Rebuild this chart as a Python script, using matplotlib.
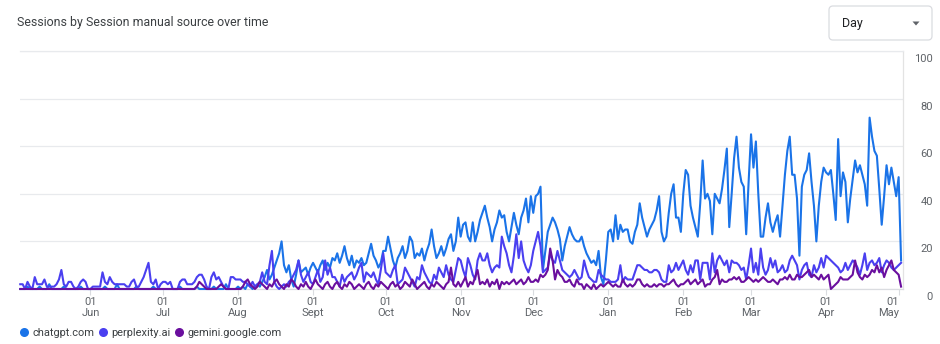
"""
Sessions by Session manual source over time (daily), GA-style line chart
"""
import pandas as pd
import matplotlib
matplotlib.use("Agg")
import matplotlib.pyplot as plt
import matplotlib.dates as mdates
from matplotlib.lines import Line2D
from matplotlib.patches import FancyBboxPatch, Polygon
from matplotlib.transforms import ScaledTranslation

plt.rcParams["font.family"] = ["Roboto", "DejaVu Sans"]

# daily sessions (first day 2024-05-03)
start_day = "2024-05-03"

chatgpt = [
    0,
    0, 0, 1, 0, 0, 0, 0, 1, 0, 0, 0, 2, 0, 0, 0, 0, 0, 1, 0, 0, 0, 0, 0, 0, 1, 0, 0, 0, 0, 0,
    0, 0, 0, 0, 1, 0, 0, 0, 0, 2, 0, 0, 0, 0, 0, 0, 0, 1, 0, 0, 0, 0, 0, 0, 1, 0, 0, 0, 0, 0,
    0, 0, 0, 0, 0, 1, 0, 0, 0, 0, 0, 0, 1, 0, 0, 0, 0, 0, 0, 1, 0, 0, 0, 0, 2, 0, 0, 0, 0, 1,
    0, 1, 0, 2, 1, 0, 1, 2, 1, 3, 5, 8, 4, 6, 9, 12, 15, 20, 10, 7, 10, 4, 1, 6, 12, 7, 8, 9, 6, 9, 11,
    9, 7, 10, 12, 8, 11, 9, 13, 12, 15, 11, 14, 18, 13, 10, 14, 9, 12, 11, 13, 10, 11, 15, 19, 14, 12, 9, 11, 16,
    16, 22, 17, 12, 9, 13, 15, 18, 13, 16, 22, 20, 13, 15, 14, 17, 12, 16, 19, 25, 18, 13, 15, 18, 14, 17, 21, 23, 16, 20, 30,
    22, 27, 28, 22, 20, 28, 20, 24, 29, 32, 35, 30, 26, 20, 25, 28, 33, 30, 31, 24, 20, 26, 32, 27, 23, 30, 33, 38, 28,
    39, 32, 39, 40, 43, 8, 16, 24, 27, 30, 28, 25, 21, 12, 18, 22, 26, 23, 21, 20, 20, 22, 18, 15, 13, 11, 12, 10, 16, 5,
    2, 12, 24, 25, 20, 31, 21, 27, 24, 25, 25, 20, 19, 24, 27, 36, 30, 26, 22, 25, 27, 29, 33, 39, 24, 20, 22, 32, 40, 44, 30,
    30, 24, 40, 50, 48, 35, 30, 26, 22, 36, 54, 38, 40, 37, 23, 40, 38, 36, 42, 50, 59, 26, 40, 55, 64, 51, 45,
    43, 23, 45, 65, 51, 62, 40, 22, 22, 30, 36, 28, 24, 28, 31, 22, 35, 48, 58, 64, 48, 48, 38, 14, 43, 48, 50, 57, 45, 35, 20,
    35, 45, 51, 49, 48, 50, 40, 29, 63, 39, 49, 45, 28, 38, 46, 54, 49, 52, 48, 44, 35, 72, 64, 58, 56, 42, 27, 39, 52,
    44, 51, 45, 39, 47, 12,
]

perplexity = [
    2,
    2, 0, 3, 1, 0, 5, 2, 2, 2, 4, 1, 1, 1, 1, 2, 4, 8, 2, 1, 3, 3, 1, 0, 1, 3, 4, 3, 0, 0, 1,
    1, 1, 1, 7, 3, 2, 5, 3, 2, 2, 2, 2, 2, 1, 1, 3, 4, 1, 1, 3, 5, 8, 11, 3, 2, 4, 0, 2, 3, 3,
    2, 3, 0, 0, 0, 3, 4, 4, 2, 2, 2, 3, 5, 6, 6, 4, 1, 0, 5, 7, 4, 5, 3, 1, 0, 0, 5, 5, 4, 4,
    4, 3, 3, 2, 1, 3, 1, 2, 3, 7, 3, 2, 10, 16, 3, 1, 0, 1, 2, 1, 3, 4, 6, 8, 12, 6, 3, 5, 7, 3, 2,
    5, 8, 3, 5, 12, 6, 9, 5, 5, 3, 1, 6, 3, 5, 6, 7, 4, 6, 9, 11, 3, 7, 6, 5, 7, 4, 2, 8, 15,
    7, 6, 5, 8, 10, 2, 3, 4, 9, 7, 5, 3, 1, 5, 4, 10, 7, 5, 3, 2, 6, 4, 9, 7, 5, 10, 6, 4, 3, 8, 13,
    12, 8, 5, 13, 10, 6, 4, 12, 15, 12, 12, 15, 10, 7, 9, 10, 9, 22, 18, 15, 10, 7, 14, 23, 13, 20, 12, 9, 7,
    10, 16, 20, 24, 18, 7, 8, 9, 15, 12, 11, 16, 12, 8, 7, 6, 5, 6, 8, 6, 4, 5, 12, 8, 5, 4, 3, 3, 8, 6,
    5, 4, 4, 3, 3, 3, 4, 10, 3, 5, 4, 4, 4, 7, 10, 10, 9, 8, 8, 7, 7, 8, 8, 7, 4, 3, 3, 10, 7, 8, 11,
    8, 10, 12, 8, 6, 10, 7, 12, 12, 4, 11, 11, 11, 4, 15, 7, 12, 14, 12, 10, 12, 7, 12, 11, 11, 10, 8,
    9, 4, 10, 17, 7, 11, 6, 17, 9, 6, 8, 13, 9, 12, 7, 8, 10, 7, 8, 12, 14, 12, 10, 4, 8, 10, 11, 6, 5, 10, 7,
    9, 13, 9, 14, 13, 12, 11, 10, 9, 7, 8, 11, 8, 10, 12, 11, 9, 6, 10, 15, 8, 11, 12, 10, 11, 13, 7, 10, 12,
    11, 9, 8, 9, 10, 11,
]

gemini = [
    0,
    0, 0, 0, 0, 0, 0, 0, 0, 0, 0, 0, 0, 0, 0, 0, 0, 0, 0, 0, 0, 0, 0, 0, 0, 0, 0, 0, 0, 0, 0,
    0, 0, 0, 0, 0, 0, 0, 0, 0, 0, 0, 0, 0, 0, 0, 0, 0, 0, 0, 0, 0, 0, 0, 0, 0, 0, 0, 0, 0, 0,
    0, 0, 0, 0, 0, 0, 0, 0, 0, 0, 0, 0, 1, 3, 2, 1, 0, 0, 0, 0, 0, 1, 2, 1, 0, 0, 0, 0, 0, 0,
    0, 1, 3, 4, 2, 1, 0, 1, 3, 2, 1, 0, 2, 1, 3, 4, 2, 1, 0, 2, 1, 4, 3, 1, 0, 2, 1, 3, 1, 0, 2,
    4, 2, 1, 0, 2, 3, 1, 0, 2, 3, 1, 0, 2, 1, 3, 2, 0, 1, 2, 1, 0, 2, 3, 1, 0, 2, 1, 3, 2,
    1, 0, 2, 3, 1, 2, 0, 1, 3, 2, 1, 4, 2, 0, 1, 2, 3, 1, 0, 2, 1, 3, 2, 1, 0, 2, 3, 9, 2, 1, 3,
    1, 3, 5, 1, 3, 2, 5, 8, 2, 3, 2, 4, 1, 3, 2, 4, 0, 3, 2, 3, 2, 3, 4, 2, 3, 4, 2, 3, 5,
    3, 3, 4, 3, 6, 5, 6, 8, 17, 12, 4, 8, 6, 5, 3, 3, 4, 2, 1, 4, 2, 2, 0, 2, 1, 0, 2, 0, 1, 2,
    1, 2, 3, 2, 1, 2, 1, 1, 4, 2, 1, 2, 1, 2, 4, 4, 2, 1, 2, 1, 1, 2, 1, 2, 2, 1, 2, 2, 3, 4, 2,
    1, 2, 2, 3, 4, 2, 3, 4, 2, 3, 4, 1, 2, 2, 4, 5, 8, 2, 4, 3, 3, 4, 4, 5, 4, 5, 3,
    3, 4, 5, 4, 3, 4, 3, 4, 5, 4, 3, 3, 4, 3, 2, 4, 4, 5, 4, 6, 4, 4, 6, 5, 5, 6, 7, 8, 5, 6, 5,
    4, 6, 4, 5, 6, 0, 1, 2, 3, 5, 4, 4, 4, 5, 6, 12, 7, 5, 4, 6, 5, 6, 8, 7, 10, 7, 9, 5, 8,
    10, 12, 8, 7, 6, 1,
]

series_names = ["chatgpt.com", "perplexity.ai", "gemini.google.com"]
series_colors = ["#1a73e8", "#4a3ff0", "#6a0f9e"]

month_labels = ["Jun", "Jul", "Aug", "Sept", "Oct", "Nov", "Dec", "Jan", "Feb", "Mar", "Apr", "May"]
y_ticks = [0, 20, 40, 60, 80, 100]

dates = pd.date_range(start_day, periods=len(chatgpt), freq="D")
month_starts = pd.date_range("2024-06-01", "2025-05-01", freq="MS")

W, H = 940, 344
fig = plt.figure(figsize=(W / 100, H / 100), dpi=100)
ax = fig.add_axes([20 / W, 1 - 289 / H, 883 / W, 238 / H])

for vals, name, col in zip([chatgpt, perplexity, gemini], series_names, series_colors):
    ax.plot(dates, vals, color=col, lw=1.5, label=name, clip_on=False,
            solid_joinstyle="round", zorder=3)

x0 = mdates.date2num(dates[0]) - 0.1
x1 = mdates.date2num(dates[-1]) + 0.8
ax.set_xlim(x0, x1)
ax.set_ylim(0, 100)

# grid + frame
ax.set_yticks(y_ticks)
ax.grid(axis="y", color="#e8eaed", lw=0.9)
ax.set_axisbelow(True)
ax.spines["left"].set_visible(False)
ax.spines["top"].set_color("#e8eaed")
ax.spines["bottom"].set_color("#dadce0")
ax.spines["right"].set_color("#e3e3e3")
for s in ax.spines.values():
    s.set_linewidth(0.9)

# x axis: month starts
ax.set_xticks(month_starts)
ax.set_xticklabels(["01\n" + m for m in month_labels])
ax.tick_params(axis="x", length=4, width=0.8, color="#dadce0", pad=2,
               labelsize=8, labelcolor="#5f6368")
for lab in ax.get_xticklabels():
    lab.set_linespacing(1.05)
ax.get_xticklabels()[-1].set_ha("right")

# y axis on the right, labels under the grid lines
ax.yaxis.tick_right()
ax.tick_params(axis="y", length=0, pad=21.6, labelsize=8, labelcolor="#5f6368")
shift = ScaledTranslation(0, -3 / 100, fig.dpi_scale_trans)
for lab in ax.get_yticklabels():
    lab.set_ha("right")
    lab.set_va("top")
    lab.set_transform(lab.get_transform() + shift)

# title
fig.text(17 / W, 1 - 22.5 / H, "Sessions by Session manual source over time",
         fontsize=8.9, color="#3c4043", va="center", ha="left")

# "Day" selector box
box = FancyBboxPatch((8.29, (H - 40) / 100), 1.03, 0.34,
                     boxstyle="round,pad=0,rounding_size=0.04",
                     transform=fig.dpi_scale_trans, fc="white", ec="#dadce0", lw=0.9)
fig.add_artist(box)
fig.text(842 / W, 1 - 23 / H, "Day", fontsize=9, color="#202124", va="center", ha="left")
tri = Polygon([(9.125, (H - 21.5) / 100), (9.195, (H - 21.5) / 100), (9.16, (H - 25.5) / 100)],
              closed=True, transform=fig.dpi_scale_trans, fc="#5f6368", ec="none")
fig.add_artist(tri)

# legend
handles = [Line2D([], [], ls="", marker="o", markersize=6.5, color=c, markeredgewidth=0)
           for c in series_colors]
fig.legend(handles, series_names, loc="center left", bbox_to_anchor=(20 / W, 1 - 333 / H),
           ncol=3, frameon=False, fontsize=7.9, handlelength=0.7, handletextpad=0.45,
           columnspacing=0.4, borderpad=0, borderaxespad=0, labelcolor="#3c4043")

fig.savefig("out.png", dpi=100)
